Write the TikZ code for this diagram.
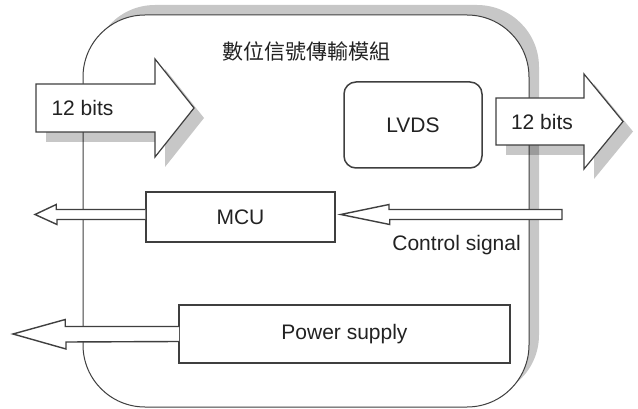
\documentclass[tikz,border=0pt]{standalone}
\usepackage{fontspec}
\setmainfont{Liberation Sans}
\newfontfamily\cjkfont{Noto Sans CJK TC}
\usepackage{xcolor}
\usepackage{tikz}
\usetikzlibrary{positioning,calc}

\definecolor{edge}{HTML}{3F3F3F}
\definecolor{ink}{HTML}{222222}

\begin{document}
\begin{tikzpicture}[x=1pt, y=-1pt, font=\fontsize{21}{25}\selectfont, text=ink,
  shadowed/.style={preaction={fill=black, fill opacity=0.22, draw=none, transform canvas={shift={#1}}}},
  module/.style={rectangle, draw=edge, fill=white, line width=1pt, rounded corners=62pt, minimum width=446pt, minimum height=392pt},
  block/.style={rectangle, draw=edge, fill=white, line width=1.5pt, inner sep=0pt},
  bigarrow/.style={draw=edge, fill=white, line width=1.2pt, line join=miter},
  hollow/.style={draw=edge, fill=white, line width=1.4pt, line join=miter}]

  \useasboundingbox (0,0) rectangle (638,409);

  \node [module, shadowed={(10pt,10pt)}] (module) at (306,211) {};
  \node [below=27pt of module.north, inner sep=0pt, font=\cjkfont\fontsize{21}{25}\selectfont] (title) {數位信號傳輸模組};

  \node [block, rounded corners=12pt, minimum width=138pt, minimum height=86pt] (lvds) at (413,125) {LVDS};
  \node [block, minimum width=189pt, minimum height=50pt] (mcu) at (240.5,217) {MCU};
  \node [block, minimum width=331pt, minimum height=58pt] (psu) at (344.5,334) {Power supply};

  % 12 bit block arrows
  \draw [bigarrow, shadowed={(10pt,-10pt)}] (36,84) -- (155,84) -- (155,59) -- (194,108) -- (155,157) -- (155,132) -- (36,132) -- cycle;
  \draw [bigarrow, shadowed={(10pt,-10pt)}] (496,98) -- (584,98) -- (584,74) -- (623,121.5) -- (584,169) -- (584,145) -- (496,145) -- cycle;
  \node (inbits) at (82.5,108) {12 bits};
  \node (outbits) at (542,122) {12 bits};

  \coordinate (mcuout) at (35,214.5);
  \coordinate (ctrlin) at (562,214.5);
  \coordinate (psuout) at (13,334);

  \draw [hollow] ([yshift=7.5pt]mcu.west) -- ++(-89,0) -- ++(0,-5) -- (mcuout) -- ++(22,10) -- ++(0,-5) -- ([yshift=-2.5pt]mcu.west);
  \draw [hollow] ([yshift=5pt]ctrlin) -- ++(-173,0) -- ++(0,-5) -- ([xshift=5pt, yshift=2.5pt]mcu.east) -- ++(49,10) -- ++(0,-5) -- ([yshift=-5pt]ctrlin) -- cycle;
  \draw [hollow] ([xshift=0.75pt, yshift=7.5pt]psu.west) -- ++(-113.75,0) -- ++(0,-7) -- (psuout) -- ++(53,15) -- ++(0,-7) -- ([xshift=0.75pt, yshift=-7.5pt]psu.west);

  \node [anchor=east, inner sep=0pt] (ctrl) at (521,245) {Control signal};
\end{tikzpicture}
\end{document}
